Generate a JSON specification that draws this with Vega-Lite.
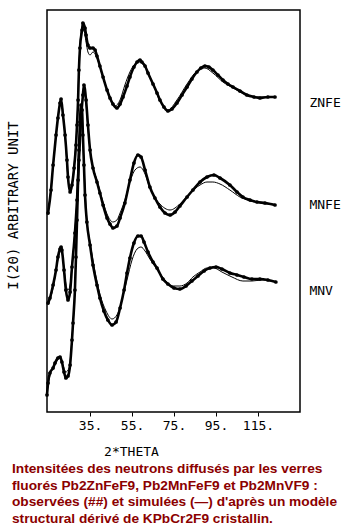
{
  "$schema": "https://vega.github.io/schema/vega-lite/v6.json",
  "autosize": {"type": "none"},
  "padding": {"left": 47, "top": 10, "right": 56, "bottom": 115},
  "width": 253,
  "height": 402,
  "background": "white",
  "config": {
    "view": {"stroke": "black", "strokeWidth": 1.5},
    "font": "DejaVu Sans Mono"
  },
  "title": {
    "text": [
      "Intensitées des neutrons diffusés par les verres",
      "fluorés Pb2ZnFeF9, Pb2MnFeF9 et Pb2MnVF9 :",
      "observées (##) et simulées (—) d'après un modèle",
      "structural dérivé de KPbCr2F9 cristallin."
    ],
    "orient": "bottom",
    "anchor": "start",
    "frame": "bounds",
    "font": "Liberation Sans",
    "fontSize": 13.7,
    "fontWeight": "bold",
    "color": "#8b0000",
    "lineHeight": 16.5,
    "offset": 4,
    "dx": 6
  },
  "datasets": {
    "obs": [
      {"sample":"ZNFE","two_theta":15.0,"intensity":199},{"sample":"ZNFE","two_theta":16.4,"intensity":222},{"sample":"ZNFE","two_theta":17.4,"intensity":247},{"sample":"ZNFE","two_theta":18.8,"intensity":277},{"sample":"ZNFE","two_theta":19.7,"intensity":294},{"sample":"ZNFE","two_theta":20.7,"intensity":309},{"sample":"ZNFE","two_theta":21.2,"intensity":313},{"sample":"ZNFE","two_theta":22.1,"intensity":297},{"sample":"ZNFE","two_theta":23.1,"intensity":277},{"sample":"ZNFE","two_theta":24.0,"intensity":252},{"sample":"ZNFE","two_theta":24.5,"intensity":235},{"sample":"ZNFE","two_theta":25.5,"intensity":220},{"sample":"ZNFE","two_theta":26.4,"intensity":227},{"sample":"ZNFE","two_theta":27.4,"intensity":244},{"sample":"ZNFE","two_theta":28.3,"intensity":267},{"sample":"ZNFE","two_theta":28.8,"intensity":287},{"sample":"ZNFE","two_theta":29.3,"intensity":312},{"sample":"ZNFE","two_theta":29.7,"intensity":342},{"sample":"ZNFE","two_theta":30.2,"intensity":364},{"sample":"ZNFE","two_theta":31.2,"intensity":382},{"sample":"ZNFE","two_theta":31.6,"intensity":389},{"sample":"ZNFE","two_theta":32.6,"intensity":384},{"sample":"ZNFE","two_theta":33.1,"intensity":377},{"sample":"ZNFE","two_theta":34.0,"intensity":367},{"sample":"ZNFE","two_theta":35.0,"intensity":364},{"sample":"ZNFE","two_theta":36.4,"intensity":364},{"sample":"ZNFE","two_theta":37.4,"intensity":362},{"sample":"ZNFE","two_theta":38.3,"intensity":356},{"sample":"ZNFE","two_theta":39.7,"intensity":346},{"sample":"ZNFE","two_theta":41.2,"intensity":335},{"sample":"ZNFE","two_theta":43.1,"intensity":322},{"sample":"ZNFE","two_theta":44.5,"intensity":314},{"sample":"ZNFE","two_theta":45.9,"intensity":308},{"sample":"ZNFE","two_theta":47.8,"intensity":304},{"sample":"ZNFE","two_theta":49.3,"intensity":308},{"sample":"ZNFE","two_theta":50.7,"intensity":315},{"sample":"ZNFE","two_theta":52.6,"intensity":326},{"sample":"ZNFE","two_theta":54.0,"intensity":335},{"sample":"ZNFE","two_theta":55.9,"intensity":345},{"sample":"ZNFE","two_theta":57.4,"intensity":350},{"sample":"ZNFE","two_theta":58.8,"intensity":352},{"sample":"ZNFE","two_theta":59.7,"intensity":350},{"sample":"ZNFE","two_theta":61.2,"intensity":346},{"sample":"ZNFE","two_theta":62.6,"intensity":339},{"sample":"ZNFE","two_theta":65.0,"intensity":328},{"sample":"ZNFE","two_theta":66.9,"intensity":319},{"sample":"ZNFE","two_theta":68.3,"intensity":312},{"sample":"ZNFE","two_theta":70.2,"intensity":305},{"sample":"ZNFE","two_theta":72.1,"intensity":301},{"sample":"ZNFE","two_theta":74.0,"intensity":303},{"sample":"ZNFE","two_theta":76.4,"intensity":309},{"sample":"ZNFE","two_theta":78.8,"intensity":317},{"sample":"ZNFE","two_theta":81.2,"intensity":325},{"sample":"ZNFE","two_theta":83.5,"intensity":333},{"sample":"ZNFE","two_theta":85.9,"intensity":340},{"sample":"ZNFE","two_theta":87.8,"intensity":344},{"sample":"ZNFE","two_theta":89.7,"intensity":346},{"sample":"ZNFE","two_theta":91.6,"intensity":345},{"sample":"ZNFE","two_theta":93.5,"intensity":342},{"sample":"ZNFE","two_theta":95.9,"intensity":337},{"sample":"ZNFE","two_theta":98.3,"intensity":332},{"sample":"ZNFE","two_theta":100.7,"intensity":328},{"sample":"ZNFE","two_theta":103.1,"intensity":325},{"sample":"ZNFE","two_theta":106.4,"intensity":321},{"sample":"ZNFE","two_theta":109.7,"intensity":317},{"sample":"ZNFE","two_theta":113.1,"intensity":315},{"sample":"ZNFE","two_theta":115.9,"intensity":314},{"sample":"ZNFE","two_theta":119.7,"intensity":315},{"sample":"ZNFE","two_theta":123.1,"intensity":315},
      {"sample":"MNFE","two_theta":15.0,"intensity":109},{"sample":"MNFE","two_theta":15.9,"intensity":114},{"sample":"MNFE","two_theta":17.4,"intensity":127},{"sample":"MNFE","two_theta":18.8,"intensity":142},{"sample":"MNFE","two_theta":19.7,"intensity":155},{"sample":"MNFE","two_theta":20.7,"intensity":163},{"sample":"MNFE","two_theta":21.2,"intensity":165},{"sample":"MNFE","two_theta":21.6,"intensity":162},{"sample":"MNFE","two_theta":22.6,"intensity":142},{"sample":"MNFE","two_theta":23.5,"intensity":122},{"sample":"MNFE","two_theta":24.5,"intensity":112},{"sample":"MNFE","two_theta":25.5,"intensity":120},{"sample":"MNFE","two_theta":26.4,"intensity":145},{"sample":"MNFE","two_theta":27.8,"intensity":179},{"sample":"MNFE","two_theta":28.8,"intensity":212},{"sample":"MNFE","two_theta":29.7,"intensity":252},{"sample":"MNFE","two_theta":30.7,"intensity":292},{"sample":"MNFE","two_theta":31.6,"intensity":317},{"sample":"MNFE","two_theta":32.1,"intensity":327},{"sample":"MNFE","two_theta":33.1,"intensity":312},{"sample":"MNFE","two_theta":34.0,"intensity":287},{"sample":"MNFE","two_theta":35.0,"intensity":262},{"sample":"MNFE","two_theta":36.4,"intensity":244},{"sample":"MNFE","two_theta":38.3,"intensity":230},{"sample":"MNFE","two_theta":39.7,"intensity":219},{"sample":"MNFE","two_theta":41.2,"intensity":207},{"sample":"MNFE","two_theta":43.1,"intensity":194},{"sample":"MNFE","two_theta":44.5,"intensity":188},{"sample":"MNFE","two_theta":45.9,"intensity":184},{"sample":"MNFE","two_theta":47.8,"intensity":186},{"sample":"MNFE","two_theta":49.3,"intensity":194},{"sample":"MNFE","two_theta":51.6,"intensity":209},{"sample":"MNFE","two_theta":54.0,"intensity":232},{"sample":"MNFE","two_theta":55.9,"intensity":249},{"sample":"MNFE","two_theta":57.8,"intensity":257},{"sample":"MNFE","two_theta":59.3,"intensity":255},{"sample":"MNFE","two_theta":61.2,"intensity":242},{"sample":"MNFE","two_theta":63.5,"intensity":225},{"sample":"MNFE","two_theta":65.9,"intensity":214},{"sample":"MNFE","two_theta":68.3,"intensity":205},{"sample":"MNFE","two_theta":70.7,"intensity":199},{"sample":"MNFE","two_theta":73.1,"intensity":197},{"sample":"MNFE","two_theta":75.5,"intensity":200},{"sample":"MNFE","two_theta":77.8,"intensity":206},{"sample":"MNFE","two_theta":81.2,"intensity":215},{"sample":"MNFE","two_theta":84.0,"intensity":222},{"sample":"MNFE","two_theta":87.4,"intensity":230},{"sample":"MNFE","two_theta":90.7,"intensity":235},{"sample":"MNFE","two_theta":94.0,"intensity":237},{"sample":"MNFE","two_theta":96.9,"intensity":234},{"sample":"MNFE","two_theta":101.6,"intensity":227},{"sample":"MNFE","two_theta":105.0,"intensity":220},{"sample":"MNFE","two_theta":107.8,"intensity":215},{"sample":"MNFE","two_theta":111.2,"intensity":212},{"sample":"MNFE","two_theta":114.5,"intensity":210},{"sample":"MNFE","two_theta":118.3,"intensity":209},{"sample":"MNFE","two_theta":123.1,"intensity":207},
      {"sample":"MNV","two_theta":14.5,"intensity":17},{"sample":"MNV","two_theta":15.0,"intensity":29},{"sample":"MNV","two_theta":15.9,"intensity":39},{"sample":"MNV","two_theta":17.4,"intensity":44},{"sample":"MNV","two_theta":18.3,"intensity":49},{"sample":"MNV","two_theta":19.7,"intensity":54},{"sample":"MNV","two_theta":20.7,"intensity":55},{"sample":"MNV","two_theta":21.6,"intensity":50},{"sample":"MNV","two_theta":22.6,"intensity":40},{"sample":"MNV","two_theta":23.5,"intensity":34},{"sample":"MNV","two_theta":24.5,"intensity":36},{"sample":"MNV","two_theta":25.5,"intensity":47},{"sample":"MNV","two_theta":26.4,"intensity":72},{"sample":"MNV","two_theta":26.9,"intensity":89},{"sample":"MNV","two_theta":27.8,"intensity":122},{"sample":"MNV","two_theta":28.3,"intensity":155},{"sample":"MNV","two_theta":28.8,"intensity":192},{"sample":"MNV","two_theta":29.3,"intensity":232},{"sample":"MNV","two_theta":29.7,"intensity":262},{"sample":"MNV","two_theta":30.2,"intensity":290},{"sample":"MNV","two_theta":30.7,"intensity":307},{"sample":"MNV","two_theta":31.2,"intensity":302},{"sample":"MNV","two_theta":31.6,"intensity":277},{"sample":"MNV","two_theta":32.1,"intensity":247},{"sample":"MNV","two_theta":32.6,"intensity":217},{"sample":"MNV","two_theta":33.5,"intensity":190},{"sample":"MNV","two_theta":35.0,"intensity":167},{"sample":"MNV","two_theta":36.4,"intensity":147},{"sample":"MNV","two_theta":38.3,"intensity":127},{"sample":"MNV","two_theta":39.7,"intensity":114},{"sample":"MNV","two_theta":41.6,"intensity":101},{"sample":"MNV","two_theta":43.5,"intensity":92},{"sample":"MNV","two_theta":45.5,"intensity":87},{"sample":"MNV","two_theta":47.4,"intensity":90},{"sample":"MNV","two_theta":49.3,"intensity":104},{"sample":"MNV","two_theta":51.2,"intensity":122},{"sample":"MNV","two_theta":52.6,"intensity":139},{"sample":"MNV","two_theta":54.0,"intensity":154},{"sample":"MNV","two_theta":55.9,"intensity":169},{"sample":"MNV","two_theta":57.8,"intensity":176},{"sample":"MNV","two_theta":59.3,"intensity":176},{"sample":"MNV","two_theta":60.7,"intensity":170},{"sample":"MNV","two_theta":62.6,"intensity":160},{"sample":"MNV","two_theta":65.0,"intensity":150},{"sample":"MNV","two_theta":66.9,"intensity":144},{"sample":"MNV","two_theta":69.7,"intensity":133},{"sample":"MNV","two_theta":72.1,"intensity":128},{"sample":"MNV","two_theta":75.0,"intensity":124},{"sample":"MNV","two_theta":77.8,"intensity":123},{"sample":"MNV","two_theta":80.7,"intensity":126},{"sample":"MNV","two_theta":83.5,"intensity":131},{"sample":"MNV","two_theta":86.4,"intensity":136},{"sample":"MNV","two_theta":89.3,"intensity":141},{"sample":"MNV","two_theta":92.1,"intensity":144},{"sample":"MNV","two_theta":95.0,"intensity":145},{"sample":"MNV","two_theta":97.8,"intensity":143},{"sample":"MNV","two_theta":101.6,"intensity":139},{"sample":"MNV","two_theta":105.0,"intensity":137},{"sample":"MNV","two_theta":108.3,"intensity":135},{"sample":"MNV","two_theta":112.1,"intensity":133},{"sample":"MNV","two_theta":115.9,"intensity":133},{"sample":"MNV","two_theta":119.7,"intensity":132},{"sample":"MNV","two_theta":123.5,"intensity":130}
    ],
    "sim": [
      {"sample":"ZNFE","two_theta":15.0,"intensity":197},{"sample":"ZNFE","two_theta":17.4,"intensity":245},{"sample":"ZNFE","two_theta":19.7,"intensity":294},{"sample":"ZNFE","two_theta":21.2,"intensity":311},{"sample":"ZNFE","two_theta":23.1,"intensity":275},{"sample":"ZNFE","two_theta":24.5,"intensity":234},{"sample":"ZNFE","two_theta":25.5,"intensity":222},{"sample":"ZNFE","two_theta":27.4,"intensity":247},{"sample":"ZNFE","two_theta":28.8,"intensity":290},{"sample":"ZNFE","two_theta":29.7,"intensity":344},{"sample":"ZNFE","two_theta":30.2,"intensity":367},{"sample":"ZNFE","two_theta":31.2,"intensity":384},{"sample":"ZNFE","two_theta":32.1,"intensity":382},{"sample":"ZNFE","two_theta":33.1,"intensity":370},{"sample":"ZNFE","two_theta":34.0,"intensity":360},{"sample":"ZNFE","two_theta":35.0,"intensity":357},{"sample":"ZNFE","two_theta":36.4,"intensity":360},{"sample":"ZNFE","two_theta":38.3,"intensity":354},{"sample":"ZNFE","two_theta":41.2,"intensity":334},{"sample":"ZNFE","two_theta":44.5,"intensity":315},{"sample":"ZNFE","two_theta":46.9,"intensity":306},{"sample":"ZNFE","two_theta":49.3,"intensity":312},{"sample":"ZNFE","two_theta":51.6,"intensity":327},{"sample":"ZNFE","two_theta":54.0,"intensity":340},{"sample":"ZNFE","two_theta":56.4,"intensity":348},{"sample":"ZNFE","two_theta":58.8,"intensity":350},{"sample":"ZNFE","two_theta":61.2,"intensity":345},{"sample":"ZNFE","two_theta":65.0,"intensity":328},{"sample":"ZNFE","two_theta":68.3,"intensity":311},{"sample":"ZNFE","two_theta":72.1,"intensity":302},{"sample":"ZNFE","two_theta":76.4,"intensity":312},{"sample":"ZNFE","two_theta":81.2,"intensity":328},{"sample":"ZNFE","two_theta":85.9,"intensity":341},{"sample":"ZNFE","two_theta":89.7,"intensity":344},{"sample":"ZNFE","two_theta":93.5,"intensity":339},{"sample":"ZNFE","two_theta":98.3,"intensity":330},{"sample":"ZNFE","two_theta":103.1,"intensity":324},{"sample":"ZNFE","two_theta":109.7,"intensity":317},{"sample":"ZNFE","two_theta":115.9,"intensity":315},{"sample":"ZNFE","two_theta":123.1,"intensity":315},
      {"sample":"MNFE","two_theta":15.0,"intensity":107},{"sample":"MNFE","two_theta":17.4,"intensity":124},{"sample":"MNFE","two_theta":19.7,"intensity":152},{"sample":"MNFE","two_theta":21.2,"intensity":162},{"sample":"MNFE","two_theta":22.6,"intensity":144},{"sample":"MNFE","two_theta":23.5,"intensity":128},{"sample":"MNFE","two_theta":24.5,"intensity":122},{"sample":"MNFE","two_theta":25.5,"intensity":127},{"sample":"MNFE","two_theta":26.4,"intensity":147},{"sample":"MNFE","two_theta":27.8,"intensity":182},{"sample":"MNFE","two_theta":28.8,"intensity":214},{"sample":"MNFE","two_theta":29.7,"intensity":254},{"sample":"MNFE","two_theta":30.7,"intensity":292},{"sample":"MNFE","two_theta":31.6,"intensity":314},{"sample":"MNFE","two_theta":32.1,"intensity":320},{"sample":"MNFE","two_theta":33.1,"intensity":308},{"sample":"MNFE","two_theta":34.0,"intensity":284},{"sample":"MNFE","two_theta":35.0,"intensity":262},{"sample":"MNFE","two_theta":36.4,"intensity":245},{"sample":"MNFE","two_theta":38.3,"intensity":232},{"sample":"MNFE","two_theta":41.2,"intensity":210},{"sample":"MNFE","two_theta":43.5,"intensity":196},{"sample":"MNFE","two_theta":45.9,"intensity":190},{"sample":"MNFE","two_theta":47.8,"intensity":192},{"sample":"MNFE","two_theta":49.3,"intensity":199},{"sample":"MNFE","two_theta":51.6,"intensity":212},{"sample":"MNFE","two_theta":54.0,"intensity":230},{"sample":"MNFE","two_theta":56.4,"intensity":242},{"sample":"MNFE","two_theta":58.8,"intensity":245},{"sample":"MNFE","two_theta":61.2,"intensity":238},{"sample":"MNFE","two_theta":63.5,"intensity":224},{"sample":"MNFE","two_theta":68.3,"intensity":208},{"sample":"MNFE","two_theta":73.1,"intensity":202},{"sample":"MNFE","two_theta":77.8,"intensity":208},{"sample":"MNFE","two_theta":82.6,"intensity":219},{"sample":"MNFE","two_theta":87.4,"intensity":227},{"sample":"MNFE","two_theta":90.7,"intensity":230},{"sample":"MNFE","two_theta":93.5,"intensity":230},{"sample":"MNFE","two_theta":96.9,"intensity":228},{"sample":"MNFE","two_theta":101.6,"intensity":222},{"sample":"MNFE","two_theta":106.4,"intensity":215},{"sample":"MNFE","two_theta":111.2,"intensity":211},{"sample":"MNFE","two_theta":115.9,"intensity":209},{"sample":"MNFE","two_theta":123.1,"intensity":207},
      {"sample":"MNV","two_theta":14.5,"intensity":20},{"sample":"MNV","two_theta":15.9,"intensity":37},{"sample":"MNV","two_theta":18.3,"intensity":47},{"sample":"MNV","two_theta":20.7,"intensity":55},{"sample":"MNV","two_theta":22.1,"intensity":47},{"sample":"MNV","two_theta":23.5,"intensity":40},{"sample":"MNV","two_theta":25.0,"intensity":44},{"sample":"MNV","two_theta":26.4,"intensity":74},{"sample":"MNV","two_theta":27.8,"intensity":124},{"sample":"MNV","two_theta":28.8,"intensity":194},{"sample":"MNV","two_theta":29.7,"intensity":264},{"sample":"MNV","two_theta":30.2,"intensity":287},{"sample":"MNV","two_theta":30.7,"intensity":300},{"sample":"MNV","two_theta":31.2,"intensity":297},{"sample":"MNV","two_theta":32.1,"intensity":247},{"sample":"MNV","two_theta":33.5,"intensity":192},{"sample":"MNV","two_theta":35.0,"intensity":170},{"sample":"MNV","two_theta":37.4,"intensity":140},{"sample":"MNV","two_theta":39.7,"intensity":118},{"sample":"MNV","two_theta":42.6,"intensity":101},{"sample":"MNV","two_theta":45.5,"intensity":93},{"sample":"MNV","two_theta":47.8,"intensity":97},{"sample":"MNV","two_theta":50.2,"intensity":112},{"sample":"MNV","two_theta":52.6,"intensity":132},{"sample":"MNV","two_theta":55.0,"intensity":152},{"sample":"MNV","two_theta":57.4,"intensity":163},{"sample":"MNV","two_theta":59.3,"intensity":165},{"sample":"MNV","two_theta":61.2,"intensity":161},{"sample":"MNV","two_theta":63.5,"intensity":153},{"sample":"MNV","two_theta":66.9,"intensity":143},{"sample":"MNV","two_theta":70.7,"intensity":132},{"sample":"MNV","two_theta":74.5,"intensity":126},{"sample":"MNV","two_theta":77.8,"intensity":126},{"sample":"MNV","two_theta":81.2,"intensity":129},{"sample":"MNV","two_theta":84.0,"intensity":135},{"sample":"MNV","two_theta":87.4,"intensity":140},{"sample":"MNV","two_theta":90.7,"intensity":144},{"sample":"MNV","two_theta":94.0,"intensity":144},{"sample":"MNV","two_theta":97.8,"intensity":140},{"sample":"MNV","two_theta":102.6,"intensity":135},{"sample":"MNV","two_theta":107.8,"intensity":131},{"sample":"MNV","two_theta":112.1,"intensity":131},{"sample":"MNV","two_theta":116.9,"intensity":132},{"sample":"MNV","two_theta":123.5,"intensity":130}
    ],
    "labels": [
      {"sample":"ZNFE","two_theta":139.5,"intensity":309},
      {"sample":"MNFE","two_theta":139.5,"intensity":207},
      {"sample":"MNV","two_theta":139.5,"intensity":121}
    ]
  },
  "encoding": {
    "x": {
      "field": "two_theta", "type": "quantitative",
      "scale": {"domain": [14.5, 135], "nice": false, "zero": false},
      "axis": {
        "values": [35, 55, 75, 95, 115],
        "labelExpr": "datum.value + '.'",
        "grid": false, "domain": false,
        "tickColor": "black", "tickSize": 4, "tickWidth": 1,
        "labelFont": "DejaVu Sans Mono", "labelFontSize": 13, "labelColor": "black",
        "labelPadding": 3,
        "title": "2*THETA",
        "titleFont": "DejaVu Sans Mono", "titleFontSize": 13, "titleFontWeight": "normal", "titleColor": "black",
        "titleX": 84, "titleY": 43, "titleAlign": "center", "titleBaseline": "alphabetic"
      }
    },
    "y": {
      "field": "intensity", "type": "quantitative",
      "scale": {"domain": [0, 402], "nice": false, "zero": false},
      "axis": {
        "labels": false, "ticks": false, "grid": false, "domain": false,
        "title": "I(2Θ) ARBITRARY UNIT",
        "titleFont": "DejaVu Sans Mono", "titleFontSize": 14, "titleFontWeight": "normal", "titleColor": "black",
        "titleAngle": -90, "titleX": -34, "titleY": 195, "titleAlign": "center", "titleBaseline": "middle"
      }
    }
  },
  "layer": [
    {
      "data": {"name": "sim"},
      "mark": {"type": "line", "color": "black", "strokeWidth": 1, "interpolate": "monotone"},
      "encoding": {"detail": {"field": "sample"}}
    },
    {
      "data": {"name": "obs"},
      "mark": {"type": "line", "color": "black", "strokeWidth": 2.6, "interpolate": "monotone"},
      "encoding": {"detail": {"field": "sample"}}
    },
    {
      "data": {"name": "obs"},
      "mark": {"type": "point", "filled": true, "color": "black", "size": 14, "opacity": 1}
    },
    {
      "data": {"name": "labels"},
      "mark": {"type": "text", "align": "left", "baseline": "middle", "font": "DejaVu Sans Mono", "fontSize": 13, "color": "black"},
      "encoding": {"text": {"field": "sample"}}
    }
  ]
}
